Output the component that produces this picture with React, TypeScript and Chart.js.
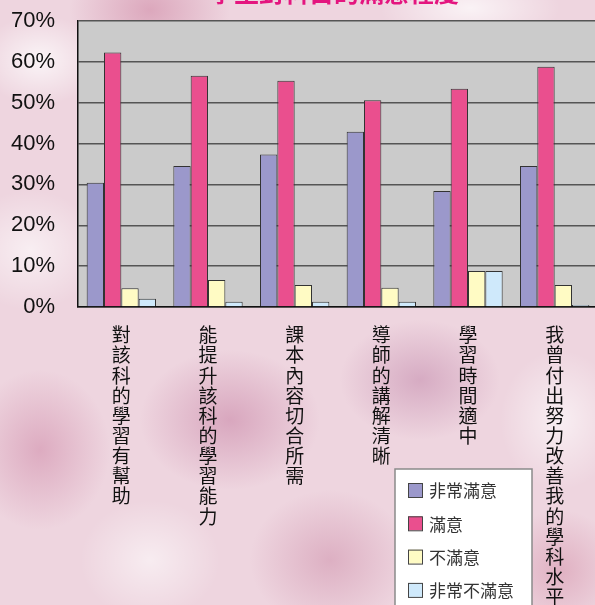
import React, { useEffect, useRef } from "react";
import { Chart, registerables } from "chart.js";

Chart.register(...registerables);

const titleText = "學生對科目的滿意程度";
const categories = [
  "對該科的學習有幫助",
  "能提升該科的學習能力",
  "課本內容切合所需",
  "導師的講解清晰",
  "學習時間適中",
  "我曾付出努力改善我的學科水平",
];
const seriesNames = ["非常滿意", "滿意", "不滿意", "非常不滿意"];
const verySatisfied = [30.4, 34.5, 37.3, 42.9, 28.4, 34.5];
const satisfied = [62.3, 56.6, 55.4, 50.6, 53.4, 58.8];
const dissatisfied = [4.6, 6.6, 5.4, 4.7, 8.8, 5.4];
const veryDissatisfied = [2.0, 1.3, 1.3, 1.3, 8.8, 0.5];
const yTickValues = [0, 10, 20, 30, 40, 50, 60, 70];
const seriesColors = ["#9b98cb", "#ea4f8e", "#fffbc4", "#cfe9fb"];

const CJK = '"Noto Sans CJK TC", "Noto Sans CJK SC", sans-serif';

export default function App() {
  const ref = useRef<HTMLCanvasElement | null>(null);

  useEffect(() => {
    document.body.style.margin = "0";
    document.body.style.overflow = "hidden";
    const canvas = ref.current;
    if (!canvas) return;

    const bgPlugin = {
      id: "plotBg",
      beforeDraw(chart: any) {
        const { ctx, chartArea } = chart;
        ctx.save();
        ctx.fillStyle = "#cbcbcb";
        ctx.fillRect(chartArea.left, chartArea.top, chartArea.right - chartArea.left, chartArea.bottom - chartArea.top);
        ctx.restore();
      },
    };

    const overlayPlugin = {
      id: "overlay",
      afterDraw(chart: any) {
        const { ctx, chartArea } = chart;
        ctx.save();
        // title (mostly cut off at the top)
        ctx.fillStyle = "#e4157f";
        ctx.font = `bold 25px ${CJK}`;
        ctx.textAlign = "center";
        ctx.textBaseline = "alphabetic";
        ctx.fillText(titleText, (chartArea.left + chartArea.right) / 2 - 4, 2);

        // legend box
        const lx = 395, ly = 469, lw = 137, lh = 160;
        ctx.fillStyle = "#ffffff";
        ctx.fillRect(lx, ly, lw, lh);
        ctx.strokeStyle = "#8a8a8a";
        ctx.lineWidth = 1.5;
        ctx.strokeRect(lx, ly, lw, lh);
        chart.data.datasets.forEach((ds: any, i: number) => {
          const cy = 490 + i * 33.3;
          ctx.fillStyle = ds.backgroundColor;
          ctx.fillRect(408, cy - 7, 14, 14);
          ctx.strokeStyle = "#444";
          ctx.lineWidth = 1;
          ctx.strokeRect(408.5, cy - 6.5, 14, 14);
          ctx.fillStyle = "#333";
          ctx.font = `17px ${CJK}`;
          ctx.textAlign = "left";
          ctx.textBaseline = "middle";
          ctx.fillText(ds.label, 429, cy + 1);
        });
        ctx.restore();
      },
    };

    const seriesData = [verySatisfied, satisfied, dissatisfied, veryDissatisfied];

    const chart = new Chart(canvas, {
      type: "bar",
      data: {
        labels: categories.map((c) => Array.from(c)),
        datasets: seriesNames.map((name, i) => ({
          label: name,
          data: seriesData[i],
          backgroundColor: seriesColors[i],
          borderColor: "#333333",
          borderWidth: 1,
          barPercentage: 1.0,
          categoryPercentage: 0.8,
        })),
      },
      options: {
        responsive: false,
        animation: false,
        devicePixelRatio: 1,
        layout: { padding: { top: 21, right: 2, left: 0, bottom: 0 } },
        plugins: {
          legend: { display: false },
          tooltip: { enabled: false },
          title: { display: false },
        },
        scales: {
          x: {
            grid: { display: false, drawTicks: false },
            border: { display: true, color: "#111", width: 1.5 },
            ticks: {
              color: "#111",
              autoSkip: false,
              maxRotation: 0,
              minRotation: 0,
              padding: 18,
              font: { family: CJK, size: 19, lineHeight: 1.06 },
            },
            afterFit(scale: any) {
              scale.height = 313;
            },
          },
          y: {
            min: 0,
            max: 70,
            afterBuildTicks(scale: any) {
              scale.ticks = yTickValues.map((v) => ({ value: v }));
            },
            grid: { color: "#555555", lineWidth: 1.5, drawTicks: false },
            border: { display: true, color: "#111", width: 1.5 },
            ticks: {
              color: "#111",
              padding: 23,
              font: { family: '"Liberation Sans", Arial, sans-serif', size: 22 },
              callback: (v: any) => `${v}%`,
            },
            afterFit(scale: any) {
              scale.width = 78;
              scale.paddingTop = 0;
              scale.paddingBottom = 0;
            },
          },
        },
      },
      plugins: [bgPlugin, overlayPlugin],
    });

    return () => chart.destroy();
  }, []);

  const bg = [
    "radial-gradient(ellipse 60px 45px at 40px 60px, rgba(255,255,255,0.75), rgba(255,255,255,0) 100%)",
    "radial-gradient(ellipse 70px 60px at 30px 250px, rgba(255,255,255,0.6), rgba(255,255,255,0) 100%)",
    "radial-gradient(ellipse 80px 60px at 150px 10px, rgba(205,130,160,0.55), rgba(205,130,160,0) 100%)",
    "radial-gradient(ellipse 90px 40px at 470px 8px, rgba(255,255,255,0.7), rgba(255,255,255,0) 100%)",
    "radial-gradient(ellipse 70px 80px at 40px 450px, rgba(200,120,155,0.45), rgba(200,120,155,0) 100%)",
    "radial-gradient(ellipse 90px 70px at 230px 420px, rgba(190,110,150,0.45), rgba(190,110,150,0) 100%)",
    "radial-gradient(ellipse 80px 70px at 330px 560px, rgba(200,130,160,0.45), rgba(200,130,160,0) 100%)",
    "radial-gradient(ellipse 70px 60px at 150px 560px, rgba(255,255,255,0.55), rgba(255,255,255,0) 100%)",
    "radial-gradient(ellipse 60px 70px at 560px 420px, rgba(255,255,255,0.6), rgba(255,255,255,0) 100%)",
    "radial-gradient(ellipse 80px 60px at 420px 380px, rgba(185,120,160,0.45), rgba(185,120,160,0) 100%)",
    "radial-gradient(ellipse 60px 60px at 560px 570px, rgba(210,140,165,0.5), rgba(210,140,165,0) 100%)",
  ].join(", ");

  return (
    <div
      style={{
        position: "relative",
        width: 600,
        height: 620,
        backgroundColor: "#eed5df",
        backgroundImage: bg,
        overflow: "hidden",
      }}
    >
      <canvas ref={ref} width={600} height={620} style={{ display: "block" }} />
    </div>
  );
}
